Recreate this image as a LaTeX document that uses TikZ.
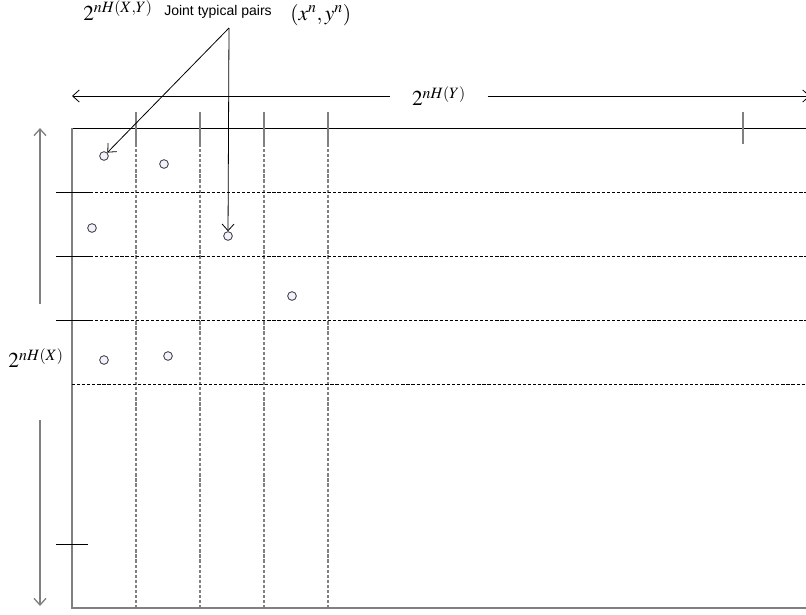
\documentclass[tikz,border=0pt]{standalone}
\usepackage{mathptmx}
\usepackage[no-math]{fontspec}
\setmainfont{Liberation Serif}
\newfontfamily\labelsans{Liberation Sans}
\usepackage{tikz}
\usetikzlibrary{arrows.meta,positioning}

\begin{document}
\begin{tikzpicture}[
        x=0.75pt, y=-0.75pt,
        math/.style={inner sep=0pt, font=\fontsize{16}{18}\selectfont},
        pt/.style={circle, draw=black!80, line width=0.6pt, fill=blue!5, inner sep=0pt, minimum size=6.5pt},
        arrow/.style={-{Straight Barb[length=5pt,width=9pt]}, line width=0.6pt},
        vgrid/.style={gray, line width=1.1pt, dash pattern=on 2.4pt off 1.4pt},
        hgrid/.style={black, line width=0.7pt, dash pattern=on 2.4pt off 1.4pt}
    ]
    \useasboundingbox (0,0) rectangle (806,614);
    % labels
    \node[font=\labelsans\fontsize{10.5}{12}\selectfont, anchor=base, inner sep=0pt] (joint) at (218,16) {Joint typical pairs};
    \node[math, anchor=base east] (hxy) at (153,20) {$2^{nH(X,Y)}$};
    \node[math, anchor=base west] (pairs) at (290,20) {$(x^n, y^n)$};
    \node[math, inner xsep=16pt] (hy) at (439,96) {$2^{nH(Y)}$};
    \node[math] (hx) at (36,358) {$2^{nH(X)}$};
    % ends of the size arrows
    \coordinate (yleft) at (72,96);
    \coordinate (yright) at (810,96);
    \coordinate (xtop) at (40,128);
    \coordinate (xtopend) at (40,304);
    \coordinate (xbotend) at (40,420);
    \coordinate (xbot) at (40,606);
    \coordinate (apex) at (229,28);
    % typical pairs
    \node[pt] (p1) at (104,156) {};
    \node[pt] (p2) at (164,164) {};
    \node[pt] (p3) at (92,228) {};
    \node[pt] (p4) at (228,236) {};
    \node[pt] (p5) at (292,296) {};
    \node[pt] (p6) at (104,360) {};
    \node[pt] (p7) at (168,356) {};
    % size arrows
    \draw[arrow] (hy) -- (yleft);
    \draw[arrow] (hy) -- (yright);
    \draw[arrow, gray, line width=1pt] (xtopend) -- (xtop);
    \draw[arrow, gray, line width=1pt] (xbotend) -- (xbot);
    % box
    \draw[line width=0.6pt] (72,128) -- (806,128);
    \draw[gray, line width=1.1pt] (72,128) -- (72,608) -- (806,608);
    % column ticks and dashed columns
    \draw[gray, line width=1.1pt] (136,112) -- (136,144);
    \draw[gray, line width=1.1pt] (200,112) -- (200,144);
    \draw[gray, line width=1.1pt] (264,112) -- (264,144);
    \draw[gray, line width=1.1pt] (328,112) -- (328,144);
    \draw[gray, line width=1.1pt] (743,112) -- (743,144);
    \draw[vgrid] (136,144) -- (136,607);
    \draw[vgrid] (200,144) -- (200,607);
    \draw[vgrid] (264,144) -- (264,607);
    \draw[vgrid] (328,144) -- (328,607);
    % row ticks and dashed rows
    \draw[line width=0.7pt] (56,192) -- (90,192);
    \draw[line width=0.7pt] (56,256) -- (90,256);
    \draw[line width=0.7pt] (56,320) -- (90,320);
    \draw[line width=0.7pt] (56,544) -- (88,544);
    \draw[hgrid] (90,192) -- (806,192);
    \draw[hgrid] (90,256) -- (806,256);
    \draw[hgrid] (90,320) -- (806,320);
    \draw[hgrid] (72,384) -- (806,384);
    % pointers
    \draw[arrow] (apex) -- (p1);
    \draw[arrow] (apex) -- (p4);
\end{tikzpicture}
\end{document}
